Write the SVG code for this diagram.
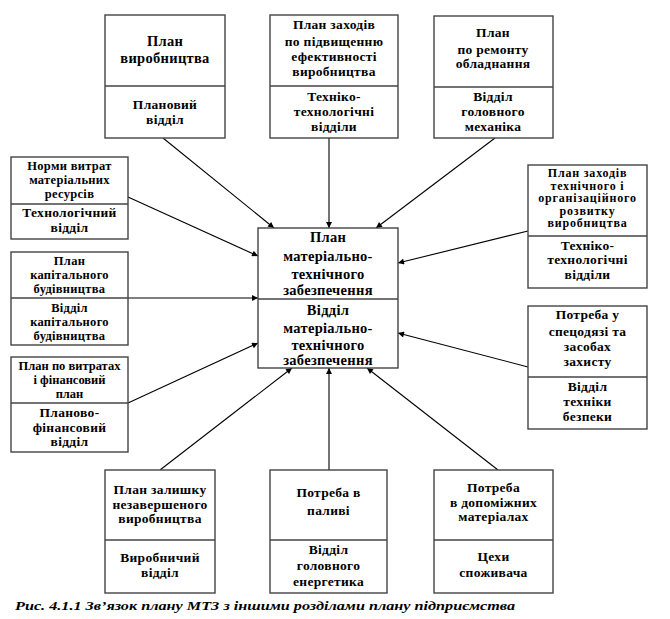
<svg xmlns="http://www.w3.org/2000/svg" width="670" height="619" viewBox="0 0 670 619">
<defs>
<marker id="ah" viewBox="0 0 10 10" refX="10" refY="5" markerWidth="8" markerHeight="6" orient="auto" markerUnits="userSpaceOnUse">
<path d="M0,0 L10,5 L0,10 z" fill="#000"/>
</marker>
<style>
.box{fill:#fff;stroke:#444;stroke-width:1.4}
.div{stroke:#444;stroke-width:1.4}
text{font-family:'Liberation Serif',serif}
.t{font-weight:bold;font-size:13.5px;text-anchor:middle;fill:#000;letter-spacing:0.3px}
.tc{font-size:14.5px}
.tb{font-size:14.5px}
.tm{font-size:12.5px}
.ts{font-size:12px;letter-spacing:0.8px}
.cap{font-weight:bold;font-style:italic;font-size:13.5px;fill:#000}
.c{stroke:#000;stroke-width:1.1;fill:none;marker-end:url(#ah)}
</style>
</defs>
<rect width="670" height="619" fill="#fff"/>
<g id="connectors">
<line class="c" x1="163" y1="138" x2="274" y2="228"/>
<line class="c" x1="329" y1="138" x2="329" y2="228"/>
<line class="c" x1="495" y1="138" x2="376" y2="228"/>
<line class="c" x1="128" y1="197" x2="258" y2="256"/>
<line class="c" x1="128" y1="298" x2="258" y2="298"/>
<line class="c" x1="128" y1="403" x2="258" y2="343"/>
<line class="c" x1="528" y1="231" x2="398" y2="263"/>
<line class="c" x1="528" y1="367" x2="398" y2="333"/>
<line class="c" x1="160" y1="470" x2="292" y2="368"/>
<line class="c" x1="329" y1="470" x2="329" y2="368"/>
<line class="c" x1="498" y1="470" x2="367" y2="368"/>
</g>
<g id="center">
<rect class="box" x="258" y="228" width="140" height="140"/>
<line class="div" x1="258" y1="299" x2="398" y2="299"/>
<text class="t tc" x="328"><tspan x="328" y="242">План</tspan><tspan x="328" y="261">матеріально-</tspan><tspan x="328" y="279">технічного</tspan><tspan x="328" y="295">забезпечення</tspan></text>
<text class="t tc" x="328"><tspan x="328" y="315">Відділ</tspan><tspan x="328" y="333">матеріально-</tspan><tspan x="328" y="350">технічного</tspan><tspan x="328" y="365">забезпечення</tspan></text>
</g>
<g id="n1">
<rect class="box" x="105" y="15" width="120" height="123"/>
<line class="div" x1="105" y1="86" x2="225" y2="86"/>
<text class="t tb" x="165"><tspan x="165" y="46">План</tspan><tspan x="165" y="63">виробництва</tspan></text>
<text class="t" x="165"><tspan x="165" y="109">Плановий</tspan><tspan x="165" y="124">відділ</tspan></text>
</g>
<g id="n2">
<rect class="box" x="270" y="15" width="128" height="123"/>
<line class="div" x1="270" y1="86" x2="398" y2="86"/>
<text class="t" x="334"><tspan x="334" y="29">План заходів</tspan><tspan x="334" y="46">по підвищенню</tspan><tspan x="334" y="61">ефективності</tspan><tspan x="334" y="76">виробництва</tspan></text>
<text class="t" x="334"><tspan x="334" y="101">Техніко-</tspan><tspan x="334" y="116">технологічні</tspan><tspan x="334" y="131">відділи</tspan></text>
</g>
<g id="n3">
<rect class="box" x="434" y="16" width="119" height="122"/>
<line class="div" x1="434" y1="87" x2="553" y2="87"/>
<text class="t" x="493"><tspan x="493" y="37">План</tspan><tspan x="493" y="54">по ремонту</tspan><tspan x="493" y="68">обладнання</tspan></text>
<text class="t" x="493"><tspan x="493" y="101">Відділ</tspan><tspan x="493" y="116">головного</tspan><tspan x="493" y="131">механіка</tspan></text>
</g>
<g id="n4">
<rect class="box" x="11" y="157" width="117" height="82"/>
<line class="div" x1="11" y1="204" x2="128" y2="204"/>
<text class="t tm" x="69.5"><tspan x="69.5" y="170">Норми витрат</tspan><tspan x="69.5" y="184">матеріальних</tspan><tspan x="69.5" y="198">ресурсів</tspan></text>
<text class="t" x="69.5"><tspan x="69.5" y="217">Технологічний</tspan><tspan x="69.5" y="232">відділ</tspan></text>
</g>
<g id="n5">
<rect class="box" x="11" y="252" width="117" height="93"/>
<line class="div" x1="11" y1="298" x2="128" y2="298"/>
<text class="t tm" x="69.5"><tspan x="69.5" y="265">План</tspan><tspan x="69.5" y="279">капітального</tspan><tspan x="69.5" y="293">будівництва</tspan></text>
<text class="t tm" x="69.5"><tspan x="69.5" y="312">Відділ</tspan><tspan x="69.5" y="326">капітального</tspan><tspan x="69.5" y="340">будівництва</tspan></text>
</g>
<g id="n6">
<rect class="box" x="11" y="357" width="117" height="95"/>
<line class="div" x1="11" y1="403" x2="128" y2="403"/>
<text class="t tm" x="69.5" style="letter-spacing:0"><tspan x="69.5" y="370">План по витратах</tspan><tspan x="69.5" y="384">і фінансовий</tspan><tspan x="69.5" y="398">план</tspan></text>
<text class="t" x="69.5"><tspan x="69.5" y="417">Планово-</tspan><tspan x="69.5" y="432">фінансовий</tspan><tspan x="69.5" y="446">відділ</tspan></text>
</g>
<g id="n7">
<rect class="box" x="528" y="165" width="119" height="123"/>
<line class="div" x1="528" y1="236" x2="647" y2="236"/>
<text class="t ts" x="587.5"><tspan x="587.5" y="177">План заходів</tspan><tspan x="587.5" y="189.5">технічного і</tspan><tspan x="587.5" y="202">організаційного</tspan><tspan x="587.5" y="214.5">розвитку</tspan><tspan x="587.5" y="227">виробництва</tspan></text>
<text class="t" x="587.5"><tspan x="587.5" y="250">Техніко-</tspan><tspan x="587.5" y="264">технологічні</tspan><tspan x="587.5" y="279">відділи</tspan></text>
</g>
<g id="n8">
<rect class="box" x="528" y="306" width="119" height="123"/>
<line class="div" x1="528" y1="377" x2="647" y2="377"/>
<text class="t" x="587.5"><tspan x="587.5" y="319">Потреба у</tspan><tspan x="587.5" y="336">спецодязі та</tspan><tspan x="587.5" y="351">засобах</tspan><tspan x="587.5" y="366">захисту</tspan></text>
<text class="t" x="587.5"><tspan x="587.5" y="391">Відділ</tspan><tspan x="587.5" y="406">техніки</tspan><tspan x="587.5" y="421">безпеки</tspan></text>
</g>
<g id="n9">
<rect class="box" x="105" y="470" width="110" height="123"/>
<line class="div" x1="105" y1="540" x2="215" y2="540"/>
<text class="t" x="160"><tspan x="160" y="494">План залишку</tspan><tspan x="160" y="509">незавершеного</tspan><tspan x="160" y="523">виробництва</tspan></text>
<text class="t" x="160"><tspan x="160" y="562">Виробничий</tspan><tspan x="160" y="577">відділ</tspan></text>
</g>
<g id="n10">
<rect class="box" x="270" y="470" width="117" height="123"/>
<line class="div" x1="270" y1="540" x2="387" y2="540"/>
<text class="t" x="328.5"><tspan x="328.5" y="497">Потреба в</tspan><tspan x="328.5" y="515">паливі</tspan></text>
<text class="t" x="328.5"><tspan x="328.5" y="554">Відділ</tspan><tspan x="328.5" y="570">головного</tspan><tspan x="328.5" y="586">енергетика</tspan></text>
</g>
<g id="n11">
<rect class="box" x="434" y="470" width="119" height="123"/>
<line class="div" x1="434" y1="540" x2="553" y2="540"/>
<text class="t" x="493.5"><tspan x="493.5" y="492">Потреба</tspan><tspan x="493.5" y="507">в допоміжних</tspan><tspan x="493.5" y="521">матеріалах</tspan></text>
<text class="t" x="493.5"><tspan x="493.5" y="561">Цехи</tspan><tspan x="493.5" y="577">споживача</tspan></text>
</g>
<text class="cap" x="15" y="610" textLength="500" lengthAdjust="spacingAndGlyphs">Рис. 4.1.1  Зв’язок плану МТЗ з іншими розділами плану підприємства</text>
</svg>
